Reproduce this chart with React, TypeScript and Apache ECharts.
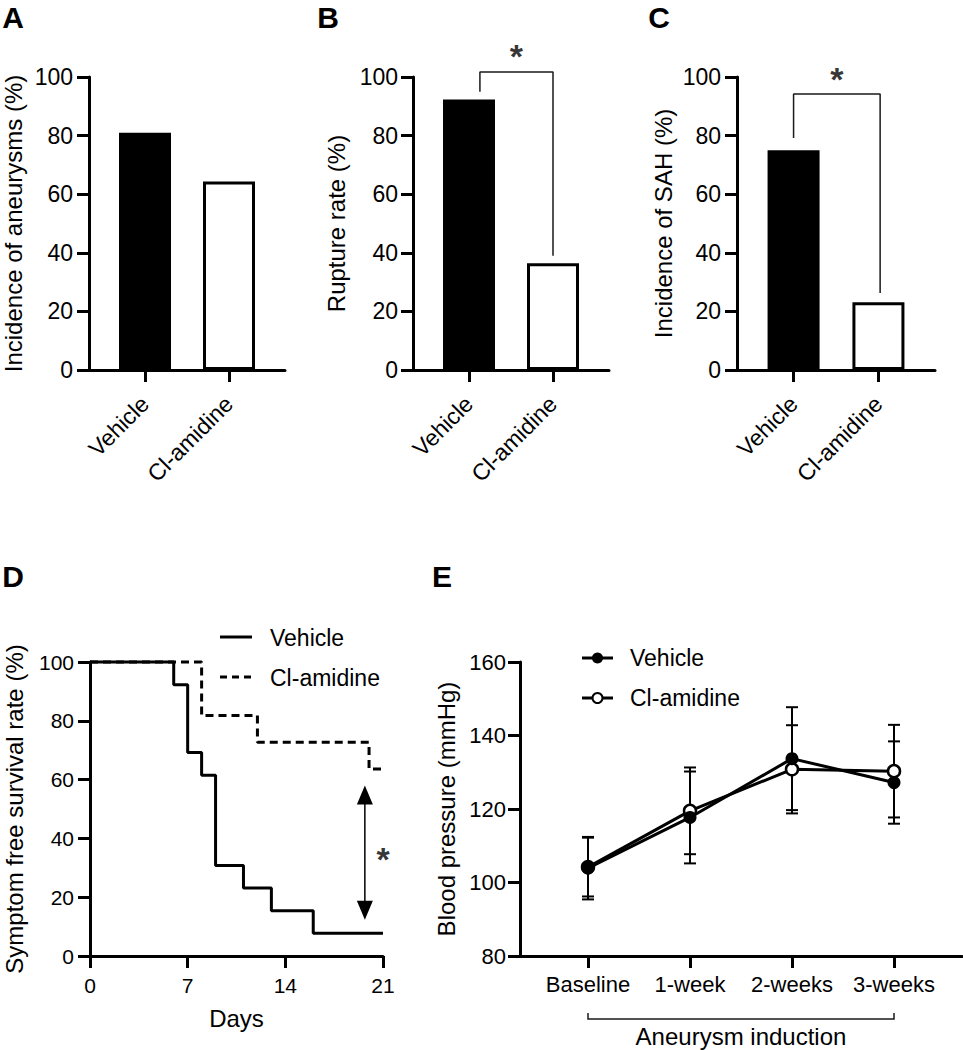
import React, { useEffect, useRef } from 'react';
import * as echarts from 'echarts';

// ---------- data ----------
const groups = ['Vehicle', 'Cl-amidine'];
const aneurysmIncidence = [81, 64.3];
const ruptureRate = [92.3, 36.4];
const sahIncidence = [75, 23.1];

const vehicleDays = [0, 6, 7, 8, 9, 11, 13, 16, 21];
const vehicleSurvival = [100, 92.3, 69.2, 61.5, 30.8, 23.1, 15.4, 7.7, 7.7];
const clDays = [0, 8, 12, 20, 21];
const clSurvival = [100, 81.8, 72.7, 63.6, 63.6];

const timepoints = ['Baseline', '1-week', '2-weeks', '3-weeks'];
const vehicleBP = [103.9, 117.7, 133.7, 127.2];
const vehicleBPsd = [8.5, 12.5, 14.0, 11.2];
const clBP = [104.2, 119.5, 130.8, 130.3];
const clBPsd = [8.0, 11.8, 12.0, 12.6];

// significance annotations (data coordinates)
const bracketB = [[0.13, 95], [0.13, 101.7], [1, 101.7], [1, 39]];
const starB = [0.565, 107.0];
const bracketC = [[0, 79.2], [0, 94.2], [1.02, 94.2], [1.02, 26.3]];
const starC = [0.51, 99.2];
const arrowD = [[19.7, 54.8], [19.7, 15.6]];
const starD = [21.0, 33.0];

const FONT = 'Liberation Sans, Arial, Helvetica, sans-serif';

const axisLine = { show: true, onZero: false, lineStyle: { color: '#000', width: 3 } };
const tick = { show: true, length: 12, lineStyle: { color: '#000', width: 3 } };

function barX(gi: number) {
  return {
    type: 'value', gridIndex: gi, min: -2 / 3, max: 5 / 3,
    axisLine,
    axisTick: { ...tick, customValues: [0, 1] },
    axisLabel: {
      customValues: [0, 1],
      formatter: (v: number) => groups[Math.round(v)] ?? '',
      rotate: 45, margin: 30, color: '#000', fontSize: 23, fontFamily: FONT,
    },
    splitLine: { show: false },
  };
}

function pctY(gi: number, name: string, gap: number, margin: number) {
  return {
    type: 'value', gridIndex: gi, min: 0, max: 100, interval: 20,
    axisLine, axisTick: tick,
    axisLabel: { color: '#000', fontSize: 23, fontFamily: FONT, margin },
    splitLine: { show: false },
    name, nameLocation: 'middle', nameGap: gap,
    nameTextStyle: { color: '#000', fontSize: 24, fontFamily: FONT },
  };
}

function barSeries(gi: number, vals: number[]) {
  return {
    type: 'bar', xAxisIndex: gi, yAxisIndex: gi, barWidth: 52,
    data: vals.map((v, i) => ({
      value: [i, v],
      itemStyle: { color: i === 0 ? '#000' : '#fff', borderColor: '#000', borderWidth: 3 },
    })),
  };
}

function bracketSeries(gi: number, pts: number[][]) {
  return {
    type: 'line', xAxisIndex: gi, yAxisIndex: gi, data: pts, symbol: 'none', clip: false,
    lineStyle: { color: '#1a1a1a', width: 1.5 }, silent: true, z: 3,
  };
}

function starSeries(gi: number, pt: number[]) {
  return {
    type: 'scatter', xAxisIndex: gi, yAxisIndex: gi, data: [pt], symbolSize: 1, clip: false,
    itemStyle: { color: 'rgba(0,0,0,0)' }, silent: true, z: 10,
    label: {
      show: true, position: 'inside', formatter: '*', color: '#000',
      fontSize: 34, fontWeight: 'bold', fontFamily: FONT,
    },
  };
}

function errorSeries(means: number[], sds: number[]) {
  return {
    type: 'custom', xAxisIndex: 4, yAxisIndex: 4, z: 1,
    data: means.map((m, i) => [i, m - sds[i], m + sds[i]]),
    encode: { x: 0, y: [1, 2] },
    renderItem: (params: any, api: any) => {
      const x = api.value(0);
      const lo = api.coord([x, api.value(1)]);
      const hi = api.coord([x, api.value(2)]);
      const hw = 6;
      const style = { stroke: '#000', lineWidth: 2, fill: null };
      return {
        type: 'group',
        children: [
          { type: 'line', shape: { x1: lo[0], y1: lo[1], x2: hi[0], y2: hi[1] }, style },
          { type: 'line', shape: { x1: lo[0] - hw, y1: lo[1], x2: lo[0] + hw, y2: lo[1] }, style },
          { type: 'line', shape: { x1: hi[0] - hw, y1: hi[1], x2: hi[0] + hw, y2: hi[1] }, style },
        ],
      };
    },
  };
}

function letter(t: string, x: number, y: number) {
  return {
    type: 'text', x, y, z: 100,
    style: {
      text: t, fill: '#000', font: `bold 30px ${FONT}`,
      textAlign: 'center', textVerticalAlign: 'middle', align: 'center', verticalAlign: 'middle',
    },
  };
}

function label(t: string, x: number, y: number, size = 23) {
  return {
    type: 'text', x, y, z: 100,
    style: {
      text: t, fill: '#000', font: `${size}px ${FONT}`,
      textAlign: 'left', textVerticalAlign: 'middle', align: 'left', verticalAlign: 'middle',
    },
  };
}

function seg(x1: number, y1: number, x2: number, y2: number, extra: any = {}) {
  return {
    type: 'line', z: 100,
    shape: { x1, y1, x2, y2 },
    style: { stroke: '#000', lineWidth: 3, ...extra },
  };
}

export default function App() {
  const ref = useRef<HTMLDivElement>(null);

  useEffect(() => {
    if (!ref.current) return;
    const chart = echarts.init(ref.current, null, { renderer: 'svg' });

    const option: any = {
      animation: false,
      backgroundColor: '#fff',
      textStyle: { fontFamily: FONT },
      grid: [
        { left: 89, top: 77, width: 196, height: 293, containLabel: false, outerBoundsMode: 'none' },
        { left: 413, top: 77, width: 196, height: 293, containLabel: false, outerBoundsMode: 'none' },
        { left: 737, top: 77, width: 198, height: 293, containLabel: false, outerBoundsMode: 'none' },
        { left: 90, top: 662, width: 293, height: 294, containLabel: false, outerBoundsMode: 'none' },
        { left: 520, top: 662, width: 442, height: 294, containLabel: false, outerBoundsMode: 'none' },
      ],
      xAxis: [
        barX(0),
        barX(1),
        barX(2),
        {
          type: 'value', gridIndex: 3, min: 0, max: 21, interval: 7,
          axisLine, axisTick: tick,
          axisLabel: { color: '#000', fontSize: 21, fontFamily: FONT, margin: 19 },
          splitLine: { show: false },
          name: 'Days', nameLocation: 'middle', nameGap: 50,
          nameTextStyle: { color: '#000', fontSize: 24, fontFamily: FONT },
        },
        {
          type: 'value', gridIndex: 4, min: -2 / 3, max: 11 / 3,
          axisLine,
          axisTick: { ...tick, customValues: [0, 1, 2, 3] },
          axisLabel: {
            customValues: [0, 1, 2, 3],
            formatter: (v: number) => timepoints[Math.round(v)] ?? '',
            color: '#000', fontSize: 22, fontFamily: FONT, margin: 17,
          },
          splitLine: { show: false },
          name: 'Aneurysm induction', nameLocation: 'middle', nameGap: 68,
          nameTextStyle: { color: '#000', fontSize: 24, fontFamily: FONT },
        },
      ],
      yAxis: [
        pctY(0, 'Incidence of aneurysms (%)', 64, 16),
        pctY(1, 'Rupture rate (%)', 65, 15),
        pctY(2, 'Incidence of SAH (%)', 62, 16),
        {
          ...pctY(3, 'Symptom free survival rate (%)', 64, 16),
          axisLabel: { color: '#000', fontSize: 21, fontFamily: FONT, margin: 16 },
        },
        {
          type: 'value', gridIndex: 4, min: 80, max: 160, interval: 20,
          axisLine, axisTick: tick,
          axisLabel: { color: '#000', fontSize: 22, fontFamily: FONT, margin: 14 },
          splitLine: { show: false },
          name: 'Blood pressure (mmHg)', nameLocation: 'middle', nameGap: 62,
          nameTextStyle: { color: '#000', fontSize: 24, fontFamily: FONT },
        },
      ],
      series: [
        barSeries(0, aneurysmIncidence),
        barSeries(1, ruptureRate),
        barSeries(2, sahIncidence),
        bracketSeries(1, bracketB),
        starSeries(1, starB),
        bracketSeries(2, bracketC),
        starSeries(2, starC),
        // D: survival curves
        {
          type: 'line', name: 'Cl-amidine', xAxisIndex: 3, yAxisIndex: 3, step: 'end',
          data: clDays.map((d, i) => [d, clSurvival[i]]), symbol: 'none', clip: false,
          lineStyle: { color: '#000', width: 3, type: [8, 5] },
        },
        {
          type: 'line', name: 'Vehicle', xAxisIndex: 3, yAxisIndex: 3, step: 'end',
          data: vehicleDays.map((d, i) => [d, vehicleSurvival[i]]), symbol: 'none', clip: false,
          lineStyle: { color: '#000', width: 3 },
        },
        {
          type: 'line', xAxisIndex: 3, yAxisIndex: 3, clip: false, silent: true,
          data: [
            { value: arrowD[0], symbolRotate: 0 },
            { value: arrowD[1], symbolRotate: 180 },
          ],
          symbol: 'triangle', symbolSize: [16, 19], showAllSymbol: true,
          itemStyle: { color: '#000' },
          lineStyle: { color: '#000', width: 1.5 },
        },
        starSeries(3, starD),
        // E: blood pressure
        errorSeries(clBP, clBPsd),
        errorSeries(vehicleBP, vehicleBPsd),
        {
          type: 'line', name: 'Cl-amidine', xAxisIndex: 4, yAxisIndex: 4, z: 3,
          data: clBP.map((v, i) => [i, v]), symbol: 'circle', symbolSize: 12,
          itemStyle: { color: '#fff', borderColor: '#000', borderWidth: 2.5 },
          lineStyle: { color: '#000', width: 3 },
        },
        {
          type: 'line', name: 'Vehicle', xAxisIndex: 4, yAxisIndex: 4, z: 4,
          data: vehicleBP.map((v, i) => [i, v]), symbol: 'circle', symbolSize: 13,
          itemStyle: { color: '#000' },
          lineStyle: { color: '#000', width: 3 },
        },
      ],
      graphic: [
        letter('A', 13, 17),
        letter('B', 328, 17),
        letter('C', 659, 17),
        letter('D', 13, 576),
        letter('E', 442, 576),
        // D legend
        seg(220, 637, 252, 637),
        seg(220, 677, 252, 677, { lineDash: [7, 5] }),
        label('Vehicle', 270, 637.5),
        label('Cl-amidine', 270, 677.5),
        // E legend
        seg(582, 658, 613, 658),
        { type: 'circle', z: 101, shape: { cx: 597.5, cy: 658, r: 5.5 }, style: { fill: '#000' } },
        seg(582, 698, 613, 698),
        { type: 'circle', z: 101, shape: { cx: 597.5, cy: 698, r: 5 }, style: { fill: '#fff', stroke: '#000', lineWidth: 2 } },
        label('Vehicle', 630, 658),
        label('Cl-amidine', 630, 698),
        // E bracket under time points
        {
          type: 'polyline', z: 100,
          shape: { points: [[588, 1013], [588, 1019], [894, 1019], [894, 1013]] },
          style: { stroke: '#1a1a1a', lineWidth: 1.5, fill: null },
        },
      ],
    };

    chart.setOption(option);
    return () => chart.dispose();
  }, []);

  return (
    <div
      ref={ref}
      style={{ position: 'absolute', left: 0, top: 0, width: 963, height: 1050, background: '#fff' }}
    />
  );
}
